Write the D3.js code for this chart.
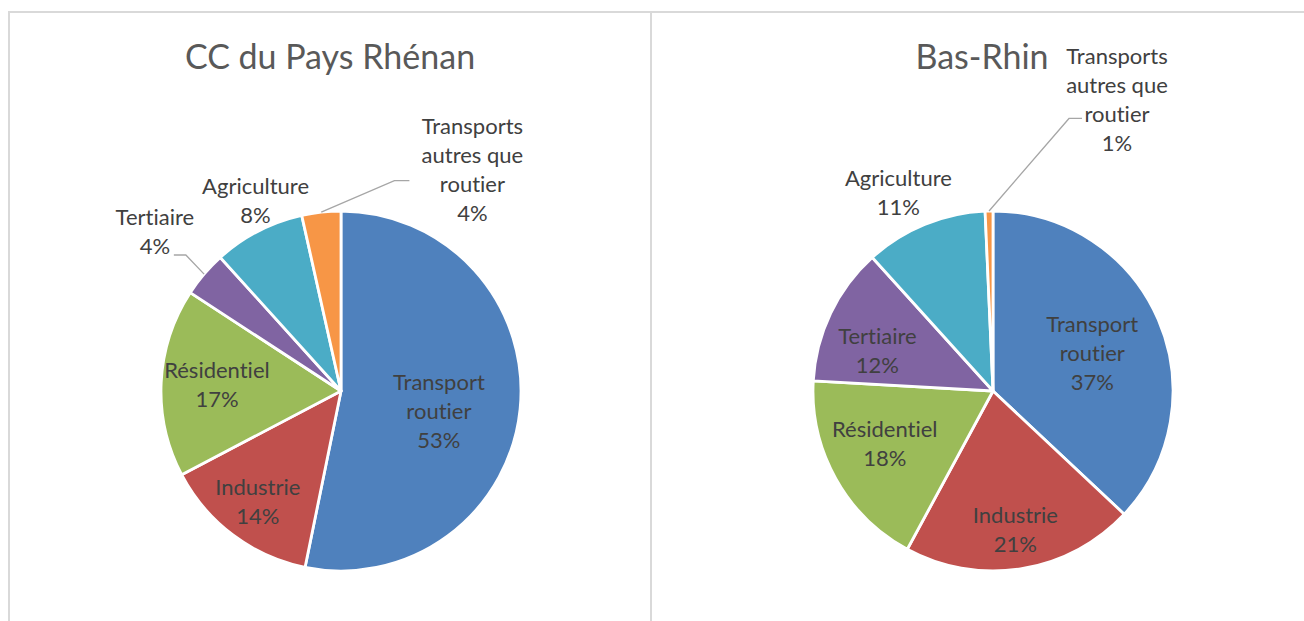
<!DOCTYPE html>
<html lang="fr">
<head>
    <meta charset="UTF-8">
    <title>Emissions par secteur</title>
    <script src="https://d3js.org/d3.v7.min.js"></script>
    <style>
        body {
            margin: 0;
            padding: 0;
            background-color: #ffffff;
            font-family: Lato, "Open Sans", sans-serif;
        }

        text {
            font-variant-ligatures: none;
            font-feature-settings: "liga" 0, "clig" 0;
        }

        .frame {
            fill: none;
            stroke: #d9d9d9;
            stroke-width: 2;
        }

        .title {
            fill: #595959;
            font-size: 34px;
        }

        .label {
            fill: #404040;
            font-size: 22px;
        }

        .leader {
            fill: none;
            stroke: #a6a6a6;
            stroke-width: 1.3;
        }
    </style>
</head>
<body>
    <svg id="chart"></svg>

    <script>
        const width = 1304;
        const height = 621;

        // categories, in slice order (clockwise from 12 o'clock)
        const categories = [
            "Transport\nroutier",
            "Industrie",
            "Résidentiel",
            "Tertiaire",
            "Agriculture",
            "Transports\nautres que\nroutier"
        ];
        const colors = ["#4f81bd", "#c0504d", "#9bbb59", "#8064a2", "#4bacc6", "#f79646"];

        // shares in %
        const paysRhenan = [53.2, 14.1, 16.9, 4.1, 8.2, 3.5];
        const basRhin = [37.0, 20.9, 18.0, 12.4, 11.0, 0.7];

        const titles = ["CC du Pays Rhénan", "Bas-Rhin"];

        // label placement: radius factor, angle nudge (deg), optional leader (elbow / end relative to label centre)
        const layoutLeft = [
            { r: 0.555, shift: 5.7 },
            { r: 0.77, shift: 0 },
            { r: 0.69, shift: 0 },
            { r: 1.36, shift: 0, leader: [[31, 23], [19, 23]] },
            { r: 1.16, shift: 3.2 },
            { r: 1.43, shift: 37, leader: [[-78, 11], [-63, 11]] }
        ];
        const layoutRight = [
            { r: 0.59, shift: 2.6 },
            { r: 0.78, shift: 0 },
            { r: 0.67, shift: 3 },
            { r: 0.68, shift: -6.4 },
            { r: 1.22, shift: -3.2 },
            { r: 1.76, shift: 24.3, leader: [[-48, 19], [-35, 19]] }
        ];

        const radius = 180;
        const lineHeight = 29;

        const svg = d3.select("#chart")
            .attr("width", width)
            .attr("height", height);

        // panel frames
        svg.append("path")
            .attr("class", "frame")
            .attr("d", "M9,640 V12 H1310 M651,12 V640");

        const pie = d3.pie().sort(null).value(d => d);
        const arc = d3.arc().innerRadius(0).outerRadius(radius);

        function drawPie(values, title, cx, layout) {
            const g = svg.append("g")
                .attr("transform", `translate(${cx},391)`);

            g.append("text")
                .attr("class", "title")
                .attr("x", -11)
                .attr("y", -322)
                .attr("text-anchor", "middle")
                .text(title);

            const arcs = pie(values);

            g.selectAll(".slice")
                .data(arcs)
                .enter()
                .append("path")
                .attr("class", "slice")
                .attr("d", arc)
                .attr("fill", (d, i) => colors[i])
                .attr("stroke", "#ffffff")
                .attr("stroke-width", 2.8)
                .attr("stroke-linejoin", "round");

            arcs.forEach((d, i) => {
                const lay = layout[i];
                const mid = (d.startAngle + d.endAngle) / 2;
                const a = mid + lay.shift * Math.PI / 180;
                const lx = Math.sin(a) * radius * lay.r;
                const ly = -Math.cos(a) * radius * lay.r;

                const lines = categories[i].split("\n").concat([Math.round(d.data) + "%"]);
                const top = ly - (lines.length - 1) * lineHeight / 2;

                const t = g.append("text")
                    .attr("class", "label")
                    .attr("text-anchor", "middle");
                lines.forEach((ln, k) => {
                    t.append("tspan")
                        .attr("x", lx)
                        .attr("y", top + k * lineHeight)
                        .attr("dy", "0.35em")
                        .text(ln);
                });

                if (lay.leader) {
                    const px = Math.sin(mid) * radius;
                    const py = -Math.cos(mid) * radius;
                    const pts = [[px, py]].concat(lay.leader.map(p => [lx + p[0], ly + p[1]]));
                    g.append("path")
                        .attr("class", "leader")
                        .attr("d", d3.line()(pts));
                }
            });
        }

        drawPie(paysRhenan, titles[0], 341, layoutLeft);
        drawPie(basRhin, titles[1], 993, layoutRight);
    </script>
</body>
</html>
